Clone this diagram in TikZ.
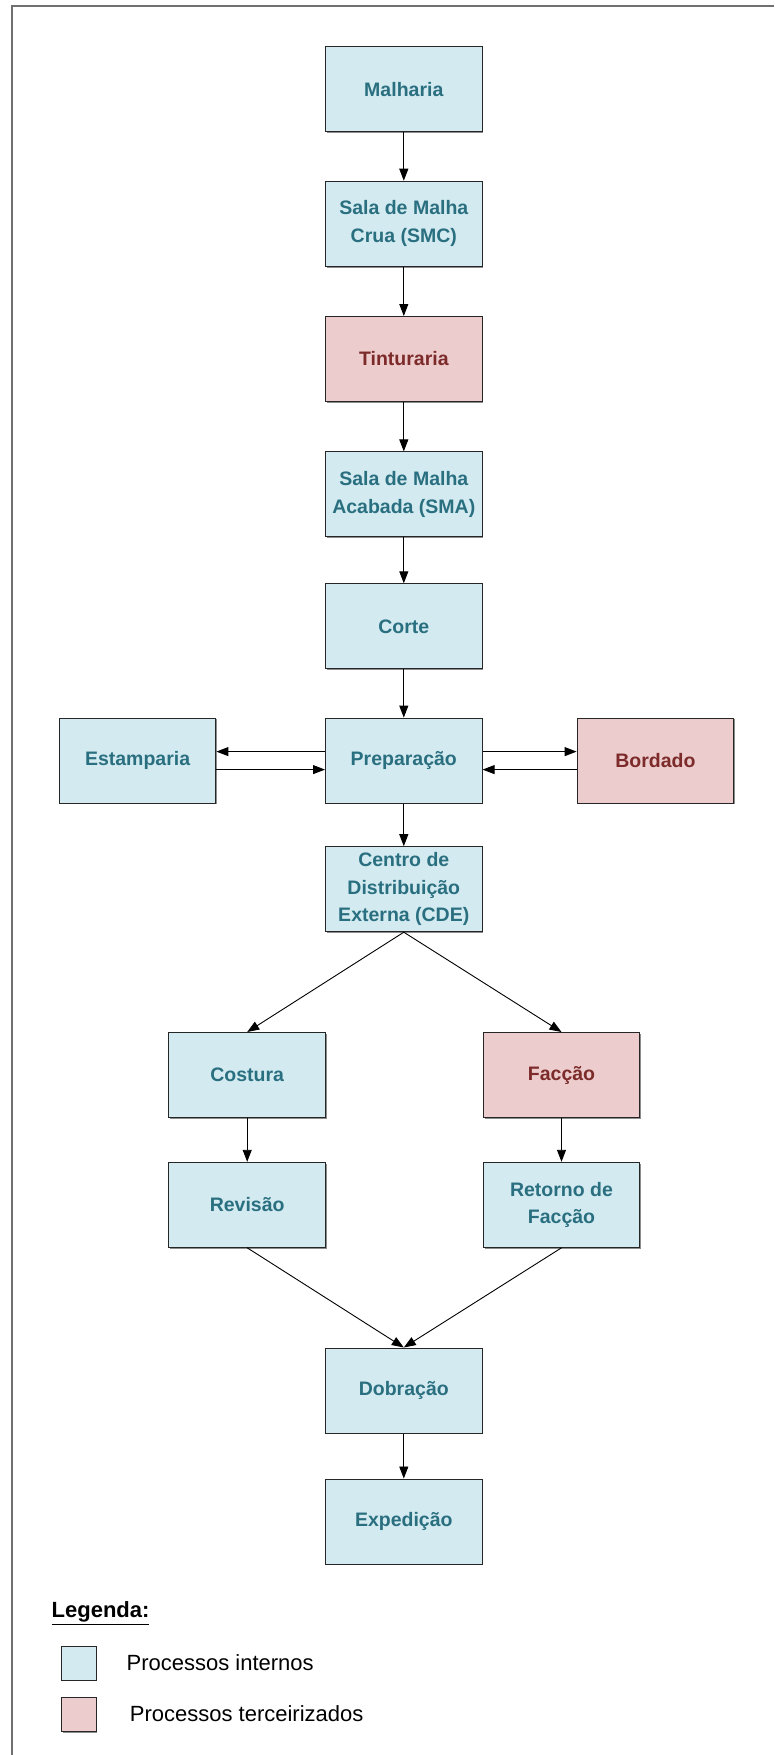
\documentclass[tikz,border=0pt]{standalone}
\usepackage{fontspec}
\setmainfont{Liberation Sans}
\usetikzlibrary{arrows.meta,shadows}

\definecolor{intfill}{HTML}{D2EAF0}
\definecolor{inttext}{HTML}{2A6F80}
\definecolor{extfill}{HTML}{ECCCCC}
\definecolor{exttext}{HTML}{7C2A2A}
\definecolor{framegray}{HTML}{707070}

\tikzset{
  procbox/.style={draw=black!85, line width=1pt, minimum width=156.6pt,
    minimum height=85pt, align=center, inner sep=2pt,
    font=\fontsize{19.5}{27.5}\selectfont\bfseries,
    drop shadow={shadow xshift=1.3pt, shadow yshift=-1.3pt, fill=black!45, opacity=1}},
  interno/.style={procbox, fill=intfill, text=inttext},
  terceiro/.style={procbox, fill=extfill, text=exttext},
  arr/.style={draw=black, line width=0.9pt, -{Triangle[length=12pt,width=9pt]}},
  legbox/.style={draw=black!85, line width=1pt, minimum width=34.7pt, minimum height=34pt,
    inner sep=0pt, drop shadow={shadow xshift=1pt, shadow yshift=-1pt, fill=black!45, opacity=1}},
  legtext/.style={anchor=west, inner sep=0pt, font=\fontsize{22}{26}\selectfont}
}

\begin{document}
\begin{tikzpicture}[x=1pt, y=-1pt]
\useasboundingbox (0,0) rectangle (774,1755);
\fill[white] (0,0) rectangle (774,1755);

% page frame
\draw[framegray, line width=2pt] (11.7,1755) -- (11.7,6) -- (774,6);

% process chain
\node[interno]  (malharia) at (403.8,89.5)  {Malharia};
\node[interno]  (smc)      at (403.8,223.7) {Sala de Malha\\Crua (SMC)};
\node[terceiro] (tint)     at (403.8,359)   {Tinturaria};
\node[interno]  (sma)      at (403.8,494.4) {Sala de Malha\\Acabada (SMA)};
\node[interno]  (corte)    at (403.8,626.3) {Corte};
\node[interno]  (prep)     at (403.8,760.6) {Preparação};
\node[interno]  (estamp)   at (137.6,760.6) {Estamparia};
\node[terceiro] (bordado)  at (655.4,760.6) {Bordado};
\node[interno]  (cde)      at (403.8,889.2) {Centro de\\Distribuição\\Externa (CDE)};
\node[interno]  (costura)  at (247.2,1075)  {Costura};
\node[terceiro] (faccao)   at (561.5,1075)  {Facção};
\node[interno]  (revisao)  at (247.2,1204.8){Revisão};
\node[interno]  (retorno)  at (561.5,1204.8){Retorno de\\Facção};
\node[interno]  (dobracao) at (403.8,1390.5){Dobração};
\node[interno]  (expedicao)at (403.8,1521.5){Expedição};

% connectors
\draw[arr] (malharia.south) -- (smc.north);
\draw[arr] (smc.south) -- (tint.north);
\draw[arr] (tint.south) -- (sma.north);
\draw[arr] (sma.south) -- (corte.north);
\draw[arr] (corte.south) -- (prep.north);
\draw[arr] ([yshift=9pt]prep.west) -- ([yshift=9pt]estamp.east);
\draw[arr] ([yshift=-9pt]estamp.east) -- ([yshift=-9pt]prep.west);
\draw[arr] ([yshift=9pt]prep.east) -- ([yshift=9pt]bordado.west);
\draw[arr] ([yshift=-9pt]bordado.west) -- ([yshift=-9pt]prep.east);
\draw[arr] (prep.south) -- (cde.north);
\draw[arr] (cde.south) -- (costura.north);
\draw[arr] (cde.south) -- (faccao.north);
\draw[arr] (costura.south) -- (revisao.north);
\draw[arr] (faccao.south) -- (retorno.north);
\draw[arr] (revisao.south) -- (dobracao.north);
\draw[arr] (retorno.south) -- (dobracao.north);
\draw[arr] (dobracao.south) -- (expedicao.north);

% legend
\node[anchor=west, inner sep=0pt, font=\fontsize{22}{26}\selectfont\bfseries] (legtitle) at (51.5,1613) {\underline{Legenda:}};
\node[legbox, fill=intfill] (legint) at (78.9,1663) {};
\node[legbox, fill=extfill] (legext) at (78.9,1714.5) {};
\node[legtext] (legintlbl) at (126.4,1663) {Processos internos};
\node[legtext] (legextlbl) at (129.7,1713.5) {Processos terceirizados};
\end{tikzpicture}
\end{document}
